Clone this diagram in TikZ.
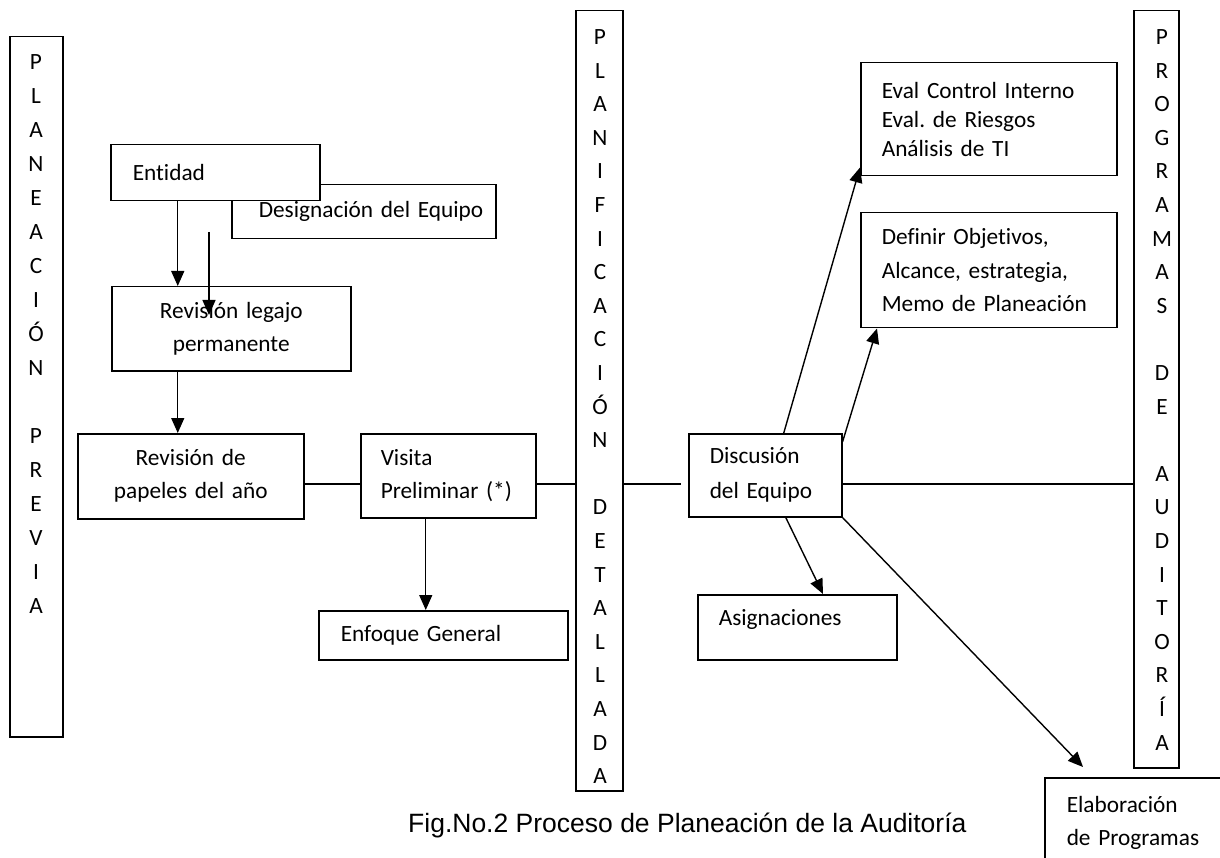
\documentclass[tikz,border=0pt]{standalone}
\usepackage{fontspec}
\setmainfont{Carlito}[Ligatures=CommonOff]
\newfontfamily\capfont{Liberation Sans}
\usetikzlibrary{arrows.meta}
\tikzset{
  boxline/.style={draw=black, line width=1.5pt, fill=white},
  arr/.style={line width=1.4pt, -{Triangle[length=15pt,width=13pt]}},
  conn/.style={line width=1.4pt},
  barletter/.style={anchor=base, inner sep=0pt, font=\fontsize{23.3pt}{28pt}\selectfont},
}
\newcommand\drawbox[9]{%
  \pgfmathsetmacro\bw{#4-#2}\pgfmathsetmacro\bh{#5-#3}\pgfmathsetmacro\tw{#4-#2-2*#6}%
  \node[boxline, anchor=north west, inner xsep=#6pt, inner ysep=0pt,
        minimum width=\bw pt, minimum height=\bh pt, text width=\tw pt,
        align=#7, font={\fontsize{23.3pt}{#8pt}\selectfont}] (#1) at (#2,#3) {#9};}
\begin{document}
\begin{tikzpicture}[x=1pt,y=-1pt]
\clip (0,0) rectangle (1220,858);
\fill[white] (0,0) rectangle (1220,858);

% vertical bars
\drawbox{lbar}{9}{36}{62}{736}{0}{center}{28}{}
\drawbox{mbar}{575}{10}{622}{790}{0}{center}{28}{}
\drawbox{rbar}{1133}{10}{1178}{767}{0}{center}{28}{}
\foreach \l/\k in {P/0,L/1,A/2,N/3,E/4,A/5,C/6,I/7,Ó/8,N/9,P/11,R/12,E/13,V/14,I/15,A/16}
  \node[barletter] (lb\k) at (36,69.5+34*\k) {\l};
\foreach \l/\k in {P/0,L/1,A/2,N/3,I/4,F/5,I/6,C/7,A/8,C/9,I/10,Ó/11,N/12,D/14,E/15,T/16,A/17,L/18,L/19,A/20,D/21,A/22}
  \node[barletter] (mb\k) at (600,44.5+33.6*\k) {\l};
\foreach \l/\k in {P/0,R/1,O/2,G/3,R/4,A/5,M/6,A/7,S/8,D/10,E/11,A/13,U/14,D/15,I/16,T/17,O/18,R/19,Í/20,A/21}
  \node[barletter] (rb\k) at (1162,44.5+33.6*\k) {\l};

% boxes
\drawbox{des}{231}{184}{495}{238}{27}{left}{28}{Designación~del~Equipo}
\drawbox{ent}{110}{144}{319}{200}{22}{left}{28}{Entidad}
\drawbox{leg}{111}{286}{350}{370}{5}{center}{33}{Revisión legajo\\permanente}
\drawbox{pap}{77}{433}{303}{518}{5}{center}{33}{Revisión de\\papeles del año}
\drawbox{vis}{360}{433}{535}{517}{20}{left}{33}{Visita\\Preliminar~(*)}
\drawbox{enf}{318}{610}{567}{659}{22}{left}{28}{Enfoque~General}
\drawbox{disc}{688}{433}{841}{516}{21}{left}{35}{Discusión\\del~Equipo}
\drawbox{asig}{697}{594}{896}{659}{21}{left}{28}{\raisebox{8pt}[\height][\depth]{Asignaciones}}
\drawbox{eval}{860}{62}{1116}{175}{21}{left}{29}{Eval~Control~Interno\\Eval.~de~Riesgos\\Análisis~de~TI}
\drawbox{def}{860}{212}{1116}{327}{21}{left}{33.5}{Definir~Objetivos,\\Alcance,~estrategia,\\Memo~de~Planeación}
\node[boxline, anchor=north west, inner xsep=22pt, inner ysep=19pt, text width=180pt,
      align=left, font={\fontsize{23.3pt}{33pt}\selectfont}] (elab) at (1044,777)
      {Elaboración\\de~Programas};

% caption
\node[anchor=base west, inner sep=0pt, font=\capfont\fontsize{26.5pt}{30pt}\selectfont] (cap)
  at (408,832) {Fig.No.2 Proceso de Planeación de la Auditoría};

% connectors
\coordinate (lvl) at (0,484);
\coordinate (discgap) at ([xshift=-7pt]disc.west);
\draw[conn] (pap.east |- lvl) -- (vis.west |- lvl);
\draw[conn] (vis.east |- lvl) -- (mbar.west |- lvl);
\draw[conn] (mbar.east |- lvl) -- (discgap |- lvl);
\draw[conn] (disc.east |- lvl) -- (rbar.west |- lvl);

\coordinate (a1) at ([xshift=-37.5pt]ent.south);
\draw[arr] (a1) -- (a1 |- leg.north);
\coordinate (a2s) at (209,232);
\coordinate (a2e) at (209,315);
\draw[arr] (a2s) -- (a2e);
\coordinate (a3) at ([xshift=-53.5pt]leg.south);
\draw[arr] (a3) -- (a3 |- pap.north);
\coordinate (a4) at ([xshift=-22.5pt]vis.south);
\draw[arr] (a4) -- (a4 |- enf.north);

\draw[arr] ([xshift=18.5pt]disc.north) -- ([yshift=9pt]eval.south west);
\draw[arr] ([yshift=-9pt]disc.north east) -- ([xshift=17pt]def.south west);
\draw[arr] ([xshift=20.5pt]disc.south) -- ([xshift=126pt]asig.north west);
\draw[arr] (disc.south east) -- ([xshift=39pt,yshift=10pt]elab.north west);
\end{tikzpicture}
\end{document}
